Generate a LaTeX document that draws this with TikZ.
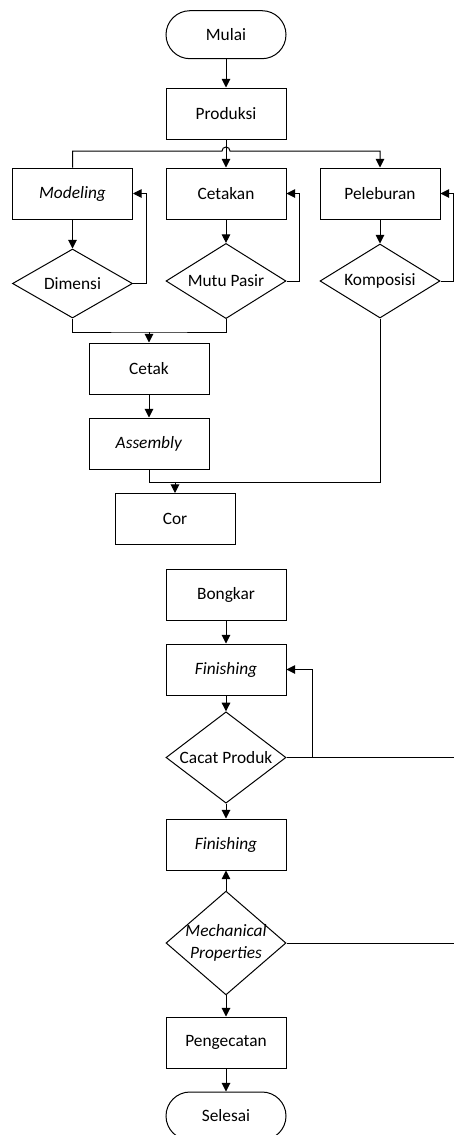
\documentclass[tikz,border=0pt]{standalone}
\usepackage{fontspec}
\setmainfont{Carlito}
\usetikzlibrary{shapes.geometric,arrows.meta}
\tikzset{
    proc/.style={draw, rectangle, minimum width=90pt, minimum height=38.25pt, inner sep=0pt},
    term/.style={draw, rectangle, rounded corners=18pt, minimum width=90pt, minimum height=36pt, inner sep=0pt},
    decide/.style={draw, diamond, minimum width=90pt, inner sep=-2.5pt},
    flow/.style={line width=0.75pt, -{Triangle[length=6.5pt,width=6.5pt]}},
    wire/.style={line width=0.75pt}
}

\begin{document}
\begin{tikzpicture}[x=0.75pt, y=-0.75pt, font=\fontsize{13}{16}\selectfont, line width=0.75pt]
    \useasboundingbox (0,0) rectangle (454,1135);

    \node (mulai) [term] at (226, 34.7) {Mulai};
    \node (produksi) [proc] at (226, 113.5) {Produksi};
    \node (modeling) [proc] at (72.5, 193.5) {\textit{Modeling}};
    \node (cetakan) [proc] at (226, 193.5) {Cetakan};
    \node (peleburan) [proc] at (380, 193.5) {Peleburan};
    \node (dimensi) [decide, minimum height=51.75pt] at (72.5, 283.5) {Dimensi};
    \node (mutu) [decide, minimum height=55.5pt] at (226, 281) {Mutu Pasir};
    \node (komposisi) [decide, minimum height=55.5pt] at (380, 281) {Komposisi};
    \node (cetak) [proc] at (149, 368.5) {Cetak};
    \node (assembly) [proc] at (149, 443.5) {\textit{Assembly}};
    \node (cor) [proc] at (175, 519) {Cor};
    \node (bongkar) [proc] at (226, 594.5) {Bongkar};
    \node (finish1) [proc] at (226, 669.5) {\textit{Finishing}};
    \node (cacat) [decide, minimum height=56.25pt] at (226, 757.5) {Cacat Produk};
    \node (finish2) [proc] at (226, 844.5) {\textit{Finishing}};
    \node (mech) [decide, minimum height=73.5pt, align=center] at (226, 943) {\textit{Mechanical}\\\textit{Properties}};
    \node (pengecatan) [proc] at (226, 1042.5) {Pengecatan};
    \node (selesai) [term] at (226, 1116) {Selesai};

    \coordinate (jmp) at (226, 151);
    \coordinate (m1) at (149, 332);
    \coordinate (m2) at (175, 482);
    \coordinate (out1) at (454, 757.5);
    \coordinate (out2) at (454, 943);

    \draw[flow] (mulai) -- (produksi);
    \draw[flow] (produksi) -- (cetakan);
    \draw[flow] (modeling.north) |- ([xshift=-3pt]jmp) arc (180:0:3pt) -| (peleburan.north);

    \draw[flow] (modeling) -- (dimensi);
    \draw[flow] (cetakan) -- (mutu);
    \draw[flow] (peleburan) -- (komposisi);
    \draw[flow] (dimensi.east) -- ++(13,0) |- (modeling.east);
    \draw[flow] (mutu.east) -- ++(13,0) |- (cetakan.east);
    \draw[flow] (komposisi.east) -- ++(13,0) |- (peleburan.east);

    \draw[wire] (dimensi.south) |- (m1) -| (mutu.south);
    \draw[flow] (m1) -- (cetak.north);
    \draw[flow] (cetak) -- (assembly);
    \draw[wire] (assembly.south) |- (m2);
    \draw[wire] (komposisi.south) |- (m2);
    \draw[flow] (m2) -- (cor.north);

    \draw[flow] (bongkar) -- (finish1);
    \draw[flow] (finish1) -- (cacat);
    \draw[flow] (cacat.east) -- ++(26,0) |- (finish1.east);
    \draw[wire] (cacat.east) -- (out1);
    \draw[flow] (cacat.south) -- (finish2.north);
    \draw[flow] (mech.north) -- (finish2.south);
    \draw[wire] (mech.east) -- (out2);
    \draw[flow] (mech.south) -- (pengecatan.north);
    \draw[flow] (pengecatan) -- (selesai);
\end{tikzpicture}
\end{document}
